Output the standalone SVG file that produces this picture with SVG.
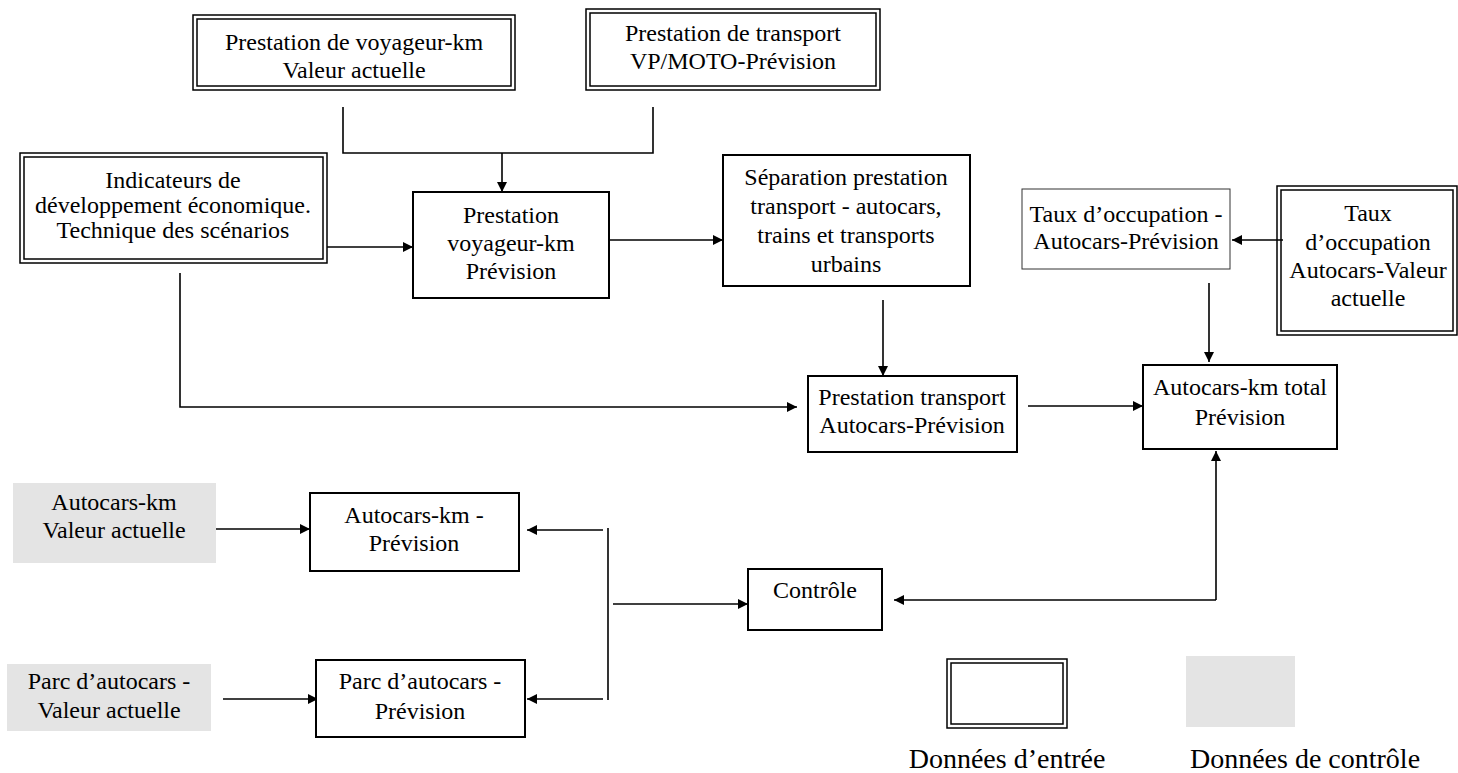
<svg xmlns="http://www.w3.org/2000/svg" width="1458" height="773" viewBox="0 0 1458 773">
<style>
text{font-family:"Liberation Serif","Times New Roman",serif;font-size:24px;fill:#000;text-anchor:middle}
.legend{font-size:28px}
.box{fill:#fff;stroke:#000;stroke-width:2}
.thin{fill:#fff;stroke:#333;stroke-width:1}
.dbl{fill:none;stroke:#000;stroke-width:1.5}
.gray{fill:#e4e4e4;stroke:none}
.conn{fill:none;stroke:#000;stroke-width:1.6}
.arr{marker-end:url(#ah)}
</style>
<defs>
<marker id="ah" markerUnits="userSpaceOnUse" markerWidth="12" markerHeight="12" refX="10" refY="5" orient="auto">
<path d="M0,0 L10,5 L0,10 z" fill="#000"/>
</marker>
</defs>
<rect width="1458" height="773" fill="#fff"/>

<g id="connectors">
<path class="conn" d="M343,107 V153 H653 V107"/>
<path class="conn arr" d="M502,153 V192"/>
<path class="conn arr" d="M327,247 H413"/>
<path class="conn arr" d="M609,240 H723"/>
<path class="conn arr" d="M883,300 V376"/>
<path class="conn arr" d="M180,273 V407 H797"/>
<path class="conn arr" d="M1028,406 H1143"/>
<path class="conn arr" d="M1283,240 H1232"/>
<path class="conn arr" d="M1209,283 V362"/>
<path class="conn arr" d="M1216,600 V451"/>
<path class="conn arr" d="M1216,600 H894"/>
<path class="conn arr" d="M216,529 H310"/>
<path class="conn arr" d="M223,699 H318"/>
<path class="conn" d="M608,528 V700"/>
<path class="conn arr" d="M603,530 H527"/>
<path class="conn arr" d="M603,699 H527"/>
<path class="conn arr" d="M613,604 H748"/>
</g>

<g id="n1">
<rect class="dbl" x="193" y="15" width="322" height="75"/>
<rect class="dbl" x="197" y="19" width="314" height="67"/>
<text><tspan x="354" y="50">Prestation de voyageur-km</tspan><tspan x="354" y="78">Valeur actuelle</tspan></text>
</g>

<g id="n2">
<rect class="dbl" x="586" y="9" width="294" height="81"/>
<rect class="dbl" x="590" y="13" width="286" height="73"/>
<text><tspan x="733" y="41">Prestation de transport</tspan><tspan x="733" y="69">VP/MOTO-Prévision</tspan></text>
</g>

<g id="n3">
<rect class="dbl" x="20" y="153" width="307" height="110"/>
<rect class="dbl" x="24" y="157" width="299" height="102"/>
<text><tspan x="173" y="188">Indicateurs de</tspan><tspan x="173" y="213">développement économique.</tspan><tspan x="173" y="238">Technique des scénarios</tspan></text>
</g>

<g id="n4">
<rect class="box" x="413" y="192" width="196" height="106"/>
<text><tspan x="511" y="223">Prestation</tspan><tspan x="511" y="251">voyageur-km</tspan><tspan x="511" y="279">Prévision</tspan></text>
</g>

<g id="n5">
<rect class="box" x="723" y="155" width="247" height="131"/>
<text><tspan x="846" y="185">Séparation prestation</tspan><tspan x="846" y="214">transport - autocars,</tspan><tspan x="846" y="243">trains et transports</tspan><tspan x="846" y="272">urbains</tspan></text>
</g>

<g id="n6">
<rect class="thin" x="1022" y="189" width="208" height="80"/>
<text><tspan x="1126" y="222">Taux d’occupation -</tspan><tspan x="1126" y="249">Autocars-Prévision</tspan></text>
</g>

<g id="n7">
<rect class="dbl" x="1277" y="186" width="180" height="149"/>
<rect class="dbl" x="1281" y="190" width="172" height="141"/>
<text><tspan x="1368" y="221">Taux</tspan><tspan x="1368" y="250">d’occupation</tspan><tspan x="1368" y="278">Autocars-Valeur</tspan><tspan x="1368" y="306">actuelle</tspan></text>
</g>

<g id="n8">
<rect class="box" x="808" y="376" width="209" height="76"/>
<text><tspan x="912" y="405">Prestation transport</tspan><tspan x="912" y="433">Autocars-Prévision</tspan></text>
</g>

<g id="n9">
<rect class="box" x="1143" y="365" width="194" height="84"/>
<text><tspan x="1240" y="395">Autocars-km total</tspan><tspan x="1240" y="425">Prévision</tspan></text>
</g>

<g id="n10">
<rect class="gray" x="13" y="483" width="203" height="80"/>
<text><tspan x="114" y="510">Autocars-km</tspan><tspan x="114" y="538">Valeur actuelle</tspan></text>
</g>

<g id="n11">
<rect class="box" x="310" y="493" width="209" height="78"/>
<text><tspan x="414" y="523">Autocars-km -</tspan><tspan x="414" y="551">Prévision</tspan></text>
</g>

<g id="n12">
<rect class="gray" x="7" y="664" width="204" height="67"/>
<text><tspan x="109" y="689">Parc d’autocars -</tspan><tspan x="109" y="718">Valeur actuelle</tspan></text>
</g>

<g id="n13">
<rect class="box" x="316" y="660" width="209" height="77"/>
<text><tspan x="420" y="689">Parc d’autocars -</tspan><tspan x="420" y="719">Prévision</tspan></text>
</g>

<g id="n14">
<rect class="box" x="748" y="569" width="134" height="61"/>
<text x="815" y="598">Contrôle</text>
</g>

<g id="legend-input">
<rect class="dbl" x="947" y="659" width="120" height="69"/>
<rect class="dbl" x="951" y="663" width="112" height="61"/>
<text class="legend" x="1007" y="768">Données d’entrée</text>
</g>

<g id="legend-control">
<rect class="gray" x="1186" y="656" width="109" height="71"/>
<text class="legend" x="1305" y="768">Données de contrôle</text>
</g>
</svg>
